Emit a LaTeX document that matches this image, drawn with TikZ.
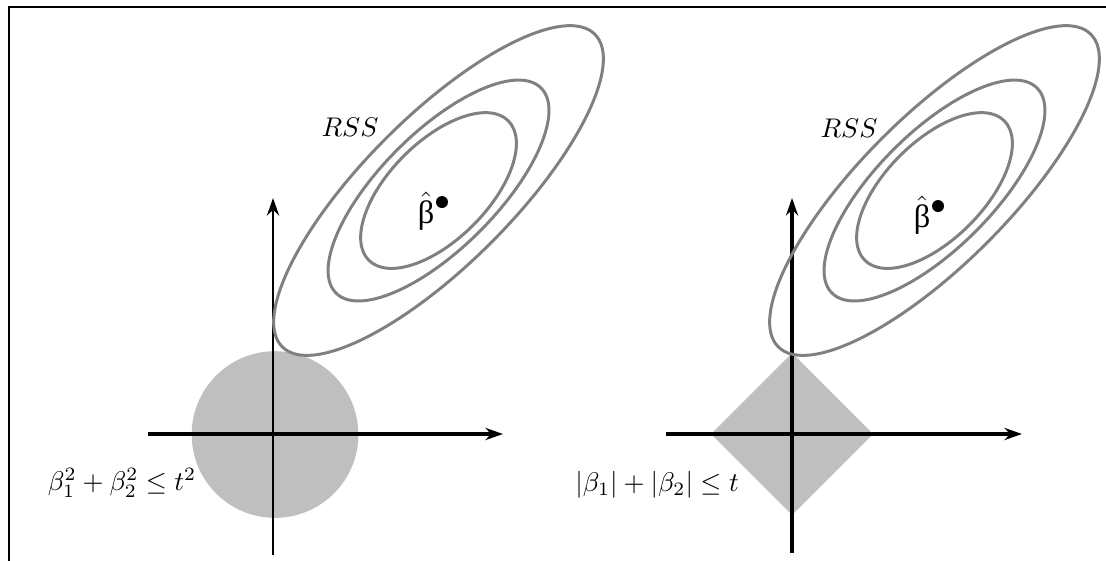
\documentclass[tikz,border=0pt]{standalone}
\usepackage{fontspec}
\usetikzlibrary{arrows.meta}
\newfontfamily\greekfont{Liberation Serif}
\begin{document}
\begin{tikzpicture}[scale=1.0,>={Stealth[length=6.5pt,width=4.5pt]},
  axis/.style={line width=1.5pt,->},
  contour/.style={black!50,line width=1.1pt},
  region/.style={fill=black!25}]
  \useasboundingbox (0,0) rectangle (14.401,7.292);
  \draw[line width=0.8pt] (0.117,-0.2) -- (0.117,7.201) -- (14.6,7.201);
  % left panel
  \fill[region] (3.581,1.634) circle (1.085);
  \draw[axis] (1.927,1.641) -- (6.549,1.641);
  \draw[axis,line width=1pt] (3.555,0.065) -- (3.555,4.714);
  \draw[contour,rotate around={45:(5.710,4.811)}] (5.710,4.811) ellipse (2.878 and 0.964);
  \draw[contour,rotate around={45:(5.710,4.811)}] (5.710,4.811) ellipse (1.888 and 0.755);
  \draw[contour,rotate around={45:(5.710,4.811)}] (5.710,4.811) ellipse (1.284 and 0.638);
  \fill (5.755,4.661) circle (0.078);
  \node (hatL) at (5.547,4.544) {\large$\hat{\mbox{\greekfont β}}$};
  \node (rssL) at (4.557,5.638) {$RSS$};
  \node (ridge) at (1.589,1.003) {$\beta_1^2+\beta_2^2\leq t^2$};
  % right panel
  \fill[region] (10.313,2.696) -- (11.368,1.641) -- (10.313,0.586) -- (9.258,1.641) -- cycle;
  \draw[axis] (8.672,1.641) -- (13.307,1.641);
  \draw[axis] (10.313,0.091) -- (10.313,4.714);
  \draw[contour,rotate around={45:(12.168,4.811)}] (12.168,4.811) ellipse (2.878 and 0.964);
  \draw[contour,rotate around={45:(12.168,4.811)}] (12.168,4.811) ellipse (1.888 and 0.755);
  \draw[contour,rotate around={45:(12.168,4.811)}] (12.168,4.811) ellipse (1.284 and 0.638);
  \fill (12.214,4.609) circle (0.078);
  \node (hatR) at (12.005,4.492) {\large$\hat{\mbox{\greekfont β}}$};
  \node (rssR) at (11.055,5.625) {$RSS$};
  \node (lasso) at (8.555,0.977) {$|\beta_1|+|\beta_2|\leq t$};
\end{tikzpicture}
\end{document}
